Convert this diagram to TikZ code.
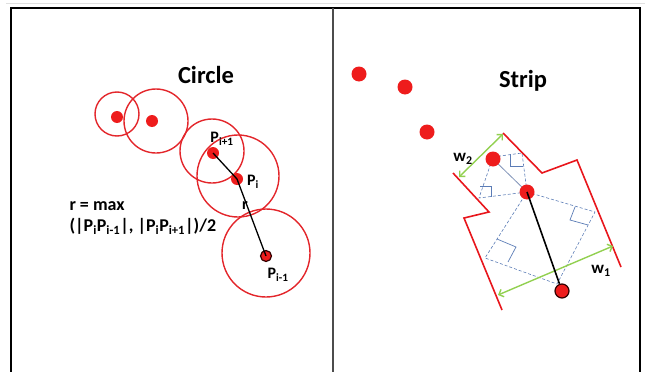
\documentclass[tikz,border=0pt]{standalone}
\usepackage{fontspec}
\setmainfont{Carlito}
\usepackage{tikz}
\usetikzlibrary{arrows.meta,positioning}
\definecolor{cDot}{HTML}{EE1C1C}
\definecolor{cRing}{HTML}{E3262B}
\definecolor{cStrip}{HTML}{E8161C}
\definecolor{cWidth}{HTML}{92D050}
\definecolor{cBox}{HTML}{5B7CB6}
\definecolor{cLink}{HTML}{8294B8}
\newcommand{\lbl}[1]{\fontsize{#1}{#1}\selectfont\bfseries}
\tikzset{
  dot/.style   ={circle, inner sep=0pt, minimum size=12pt, fill=cDot},
  bigdot/.style={circle, inner sep=0pt, minimum size=15pt, fill=cDot},
  enddot/.style={circle, inner sep=0pt, fill=cDot, draw=black!80!red, line width=1.2pt},
  ring/.style  ={draw=cRing, line width=1.4pt},
  wall/.style  ={draw=cStrip, line width=1.6pt},
  width/.style ={{Straight Barb[length=4pt,width=8pt]}-{Straight Barb[length=4pt,width=8pt]}, draw=cWidth, line width=1.4pt},
  hull/.style  ={draw=cBox, dashed, dash pattern=on 3pt off 2pt, line width=0.6pt},
  corner/.style={draw=cBox, line width=0.7pt},
}

\begin{document}
\begin{tikzpicture}[x=1pt,y=-1pt]
        \useasboundingbox (0,0) rectangle (645,372);
        % frame
        \draw[black!12, line width=0.6pt] (6,3.5)--(645,3.5);
        \draw[black, line width=1.8pt] (11,372)--(11,8)--(640,8)--(640,372);
        \draw[black!70, line width=1.3pt] (333,8)--(333,372);

        % --- circle cover ---
        \node[font=\lbl{24.5}] (tcirc) at (206,75) {Circle};
        \draw[ring] (117,114) circle (22);
        \draw[ring] (156,121) circle (32);
        \draw[ring] (212,151) circle (32);
        \draw[ring] (238,176) circle (41);
        \draw[ring] (266,253) circle (44);
        \node[dot] (c1) at (117,117) {};
        \node[dot] (c2) at (152,121) {};
        \node[dot] (pn) at (213,153) {};
        \node[dot] (pc) at (237,179) {};
        \node[enddot, minimum size=11pt] (pp) at (266,256) {};
        \draw[black, line width=1.3pt] (pn.center)--(pc.center)--(pp.center);
        \node[font=\lbl{16}] (lpn) at (222,139) {P\textsubscript{i+1}};
        \node[font=\lbl{16}] (lpc) at (253,182) {P\textsubscript{i}};
        \node[font=\lbl{16}] (lr)  at (245,206) {r};
        \node[font=\lbl{16}] (lpp) at (278,275) {P\textsubscript{i-1}};
        \node[font=\lbl{18}, anchor=west, align=left] (rmax) at (66,218)
          {r = max\\[3pt](|P\textsubscript{i}P\textsubscript{i-1}|, |P\textsubscript{i}P\textsubscript{i+1}|)/2};

        % --- strip cover ---
        \node[font=\lbl{24.5}] (tstrip) at (523,81) {Strip};
        \node[bigdot] (s4) at (359,74) {};
        \node[bigdot] (s5) at (405,87) {};
        \node[bigdot] (s6) at (427,132) {};
        \coordinate (q1) at (522,153);
        \coordinate (q2) at (479,198);
        \coordinate (q3) at (595,212);
        \coordinate (q4) at (557,284);
        \coordinate (q5) at (485,258);
        \draw[hull] (493,157)--(q1)--(527,192)--(q2)--cycle;
        \draw[hull] (527,192)--(q3)--(q4)--(q5)--cycle;
        \draw[corner] (510,154)--(510,166)--(523,166);
        \draw[corner] (480,186)--(491,186)--(491,197);
        \draw[corner] (575,207)--(570,220)--(588,225);
        \draw[corner] (497,239)--(516,247)--(508,262);
        \draw[cLink, line width=0.8pt] (493,159)--(527,192);
        \draw[wall] (453,173)--(489,212)--(464,218)--(502,310);
        \draw[wall] (503,133)--(542,173)--(577,160)--(621,267);
        \coordinate (w2a) at (459,177);
        \coordinate (w2b) at (503,134);
        \coordinate (w1a) at (498,295);
        \coordinate (w1b) at (613,246);
        \draw[width] (w2a)--(w2b);
        \draw[width] (w1a)--(w1b);
        \node[bigdot] (s1) at (493,159) {};
        \node[bigdot] (s2) at (527,192) {};
        \node[enddot, minimum size=14pt] (s3) at (562,291) {};
        \draw[black, line width=1.6pt] (s2.center)--(s3);
        \node[font=\lbl{17}] (lw2) at (463,159) {w\textsubscript{2}};
        \node[font=\lbl{17}] (lw1) at (601,271) {w\textsubscript{1}};
      \end{tikzpicture}
\end{document}
